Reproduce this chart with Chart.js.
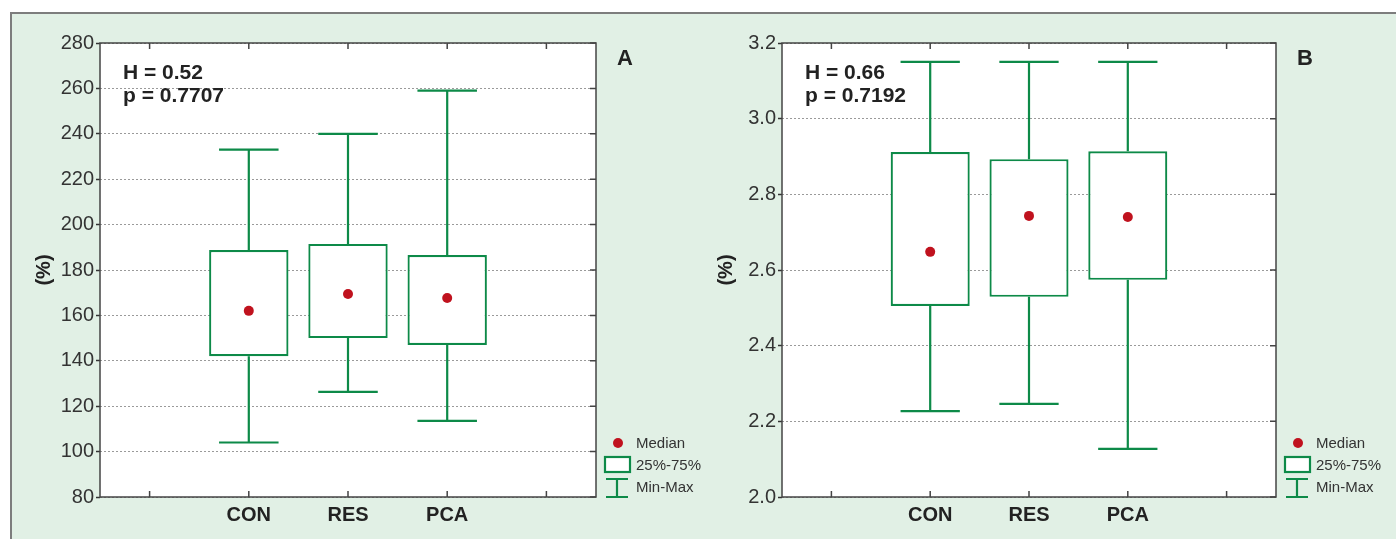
<!DOCTYPE html>
<html>
<head>
<meta charset="utf-8">
<script src="https://cdn.jsdelivr.net/npm/chart.js@4/dist/chart.umd.min.js"></script>
<style>
body { margin:0; background:#fff; width:1396px; height:539px; overflow:hidden; position:relative; }
#fig { position:absolute; left:10px; top:12px; right:0; bottom:0; background:#e1f0e5; border-top:2px solid #7d7d7d; border-left:2px solid #7d7d7d; }
canvas { position:absolute; }
</style>
</head>
<body>
<div id="fig"></div>
<canvas id="chartA" width="720" height="527" style="left:10px;top:12px"></canvas>
<canvas id="chartB" width="696" height="527" style="left:700px;top:12px"></canvas>
<script>
Chart.defaults.font.family = '"Liberation Sans", Arial, sans-serif';
Chart.defaults.color = '#333';

let green = '#0d8a48';
let red = '#c0121e';

// empty slot at both ends of the axis, like the original
let labelsX = ['', 'CON', 'RES', 'PCA', ''];

// panel A, (%)
let minA = [104, 126.3, 113.5];
let q1A = [142, 150, 147];
let medA = [162, 169.4, 167.7];
let q3A = [188.8, 191.5, 186.6];
let maxA = [233, 240, 259];
let yTicksA = [80, 280, 20];
let statsA = ['H = 0.52', 'p = 0.7707'];

// panel B, (%)
let minB = [2.227, 2.246, 2.127];
let q1B = [2.505, 2.529, 2.574];
let medB = [2.648, 2.743, 2.74];
let q3B = [2.912, 2.893, 2.914];
let maxB = [3.15, 3.15, 3.15];
let yTicksB = [2.0, 3.2, 0.2];
let statsB = ['H = 0.66', 'p = 0.7192'];

let pad = arr => [null, ...arr, null];

// whiskers (min-max) drawn through the chart scales
let whiskers = {
    id: 'whiskers',
    beforeDatasetsDraw(chart, args, opts) {
        let ctx = chart.ctx, x = chart.scales.x, y = chart.scales.y;
        let half = x.width / labelsX.length * 0.3;
        ctx.save();
        ctx.strokeStyle = green;
        ctx.lineWidth = 2.2;
        opts.min.forEach((v, i) => {
            let cx = x.getPixelForValue(i + 1);
            let yMin = y.getPixelForValue(v), yMax = y.getPixelForValue(opts.max[i]);
            let yQ1 = y.getPixelForValue(opts.q1[i]), yQ3 = y.getPixelForValue(opts.q3[i]);
            ctx.beginPath();
            ctx.moveTo(cx, yQ3); ctx.lineTo(cx, yMax);
            ctx.moveTo(cx - half, yMax); ctx.lineTo(cx + half, yMax);
            ctx.moveTo(cx, yQ1); ctx.lineTo(cx, yMin);
            ctx.moveTo(cx - half, yMin); ctx.lineTo(cx + half, yMin);
            ctx.stroke();
        });
        ctx.restore();
    }
};

// white plot area, frame, inner ticks, texts and legend
let frame = {
    id: 'frame',
    beforeDraw(chart) {
        let a = chart.chartArea, ctx = chart.ctx;
        ctx.save();
        ctx.fillStyle = '#fff';
        ctx.fillRect(a.left, a.top, a.right - a.left, a.bottom - a.top);
        ctx.restore();
    },
    afterDraw(chart, args, opts) {
        let a = chart.chartArea, ctx = chart.ctx, x = chart.scales.x, y = chart.scales.y;
        ctx.save();
        ctx.strokeStyle = '#444';
        ctx.lineWidth = 1.5;
        ctx.strokeRect(a.left, a.top, a.right - a.left, a.bottom - a.top);

        ctx.beginPath();
        y.ticks.forEach(t => {
            let py = y.getPixelForValue(t.value);
            ctx.moveTo(a.right - 6, py); ctx.lineTo(a.right, py);
        });
        labelsX.forEach((l, i) => {
            let px = x.getPixelForValue(i);
            ctx.moveTo(px, a.top); ctx.lineTo(px, a.top + 6);
            ctx.moveTo(px, a.bottom); ctx.lineTo(px, a.bottom - 6);
        });
        ctx.stroke();

        ctx.fillStyle = '#222';
        ctx.font = 'bold 21px "Liberation Sans", Arial, sans-serif';
        ctx.textAlign = 'left';
        ctx.textBaseline = 'alphabetic';
        ctx.fillText(opts.stats[0], a.left + 23, a.top + 36);
        ctx.fillText(opts.stats[1], a.left + 23, a.top + 59);

        ctx.font = 'bold 22px "Liberation Sans", Arial, sans-serif';
        ctx.textAlign = 'center';
        ctx.textBaseline = 'middle';
        ctx.fillText(opts.letter, a.right + 29, a.top + 16);

        ctx.save();
        ctx.font = 'bold 20px "Liberation Sans", Arial, sans-serif';
        ctx.translate(a.left - 56, (a.top + a.bottom) / 2);
        ctx.rotate(-Math.PI / 2);
        ctx.fillText('(%)', 0, 0);
        ctx.restore();

        // legend
        let r = a.right, b = a.bottom;
        ctx.fillStyle = red;
        ctx.beginPath();
        ctx.arc(r + 22, b - 54, 5, 0, Math.PI * 2);
        ctx.fill();
        ctx.fillStyle = '#fff';
        ctx.strokeStyle = green;
        ctx.lineWidth = 2.2;
        ctx.fillRect(r + 9, b - 40, 25, 15);
        ctx.strokeRect(r + 9, b - 40, 25, 15);
        ctx.beginPath();
        ctx.moveTo(r + 10, b - 18); ctx.lineTo(r + 32, b - 18);
        ctx.moveTo(r + 21, b - 18); ctx.lineTo(r + 21, b);
        ctx.moveTo(r + 10, b); ctx.lineTo(r + 32, b);
        ctx.stroke();
        ctx.fillStyle = '#333';
        ctx.font = '15px "Liberation Sans", Arial, sans-serif';
        ctx.textAlign = 'left';
        ctx.fillText('Median', r + 40, b - 53);
        ctx.fillText('25%-75%', r + 40, b - 31);
        ctx.fillText('Min-Max', r + 40, b - 9);
        ctx.restore();
    }
};

function makePanel(id, letter, q1, q3, med, min, max, yTicks, stats, yWidth, rightPad, decimals) {
    return new Chart(document.getElementById(id), {
        type: 'bar',
        data: {
            labels: labelsX,
            datasets: [{
                type: 'line',
                data: pad(med),
                showLine: false,
                pointRadius: 5,
                pointBorderWidth: 0,
                pointBackgroundColor: red,
                order: 0
            }, {
                data: pad(q1.map((v, i) => [v, q3[i]])),
                backgroundColor: '#fff',
                borderColor: green,
                borderWidth: 2.2,
                borderSkipped: false,
                barPercentage: 0.8,
                categoryPercentage: 1,
                order: 1
            }]
        },
        options: {
            responsive: false,
            devicePixelRatio: 1,
            animation: false,
            layout: { padding: { top: 31, right: rightPad, left: 0, bottom: 0 } },
            plugins: {
                legend: { display: false },
                tooltip: { enabled: false },
                whiskers: { q1: q1, q3: q3, min: min, max: max },
                frame: { stats: stats, letter: letter }
            },
            scales: {
                x: {
                    grid: { display: false, drawTicks: false },
                    border: { display: false },
                    ticks: { color: '#222', padding: 6, font: { size: 20, weight: 'bold' } },
                    afterFit: s => { s.height = 42; }
                },
                y: {
                    min: yTicks[0],
                    max: yTicks[1],
                    grid: { color: '#9a9a9a', lineWidth: 1, tickColor: '#333', tickLength: 4, tickWidth: 1.5 },
                    border: { display: false, dash: [2, 2] },
                    ticks: {
                        stepSize: yTicks[2],
                        padding: 2,
                        color: '#333',
                        font: { size: 20 },
                        callback: v => v.toFixed(decimals)
                    },
                    afterFit: s => { s.width = yWidth; }
                }
            }
        },
        plugins: [whiskers, frame]
    });
}

makePanel('chartA', 'A', q1A, q3A, medA, minA, maxA, yTicksA, statsA, 90, 134, 0);
makePanel('chartB', 'B', q1B, q3B, medB, minB, maxB, yTicksB, statsB, 82, 120, 1);
</script>
</body>
</html>
